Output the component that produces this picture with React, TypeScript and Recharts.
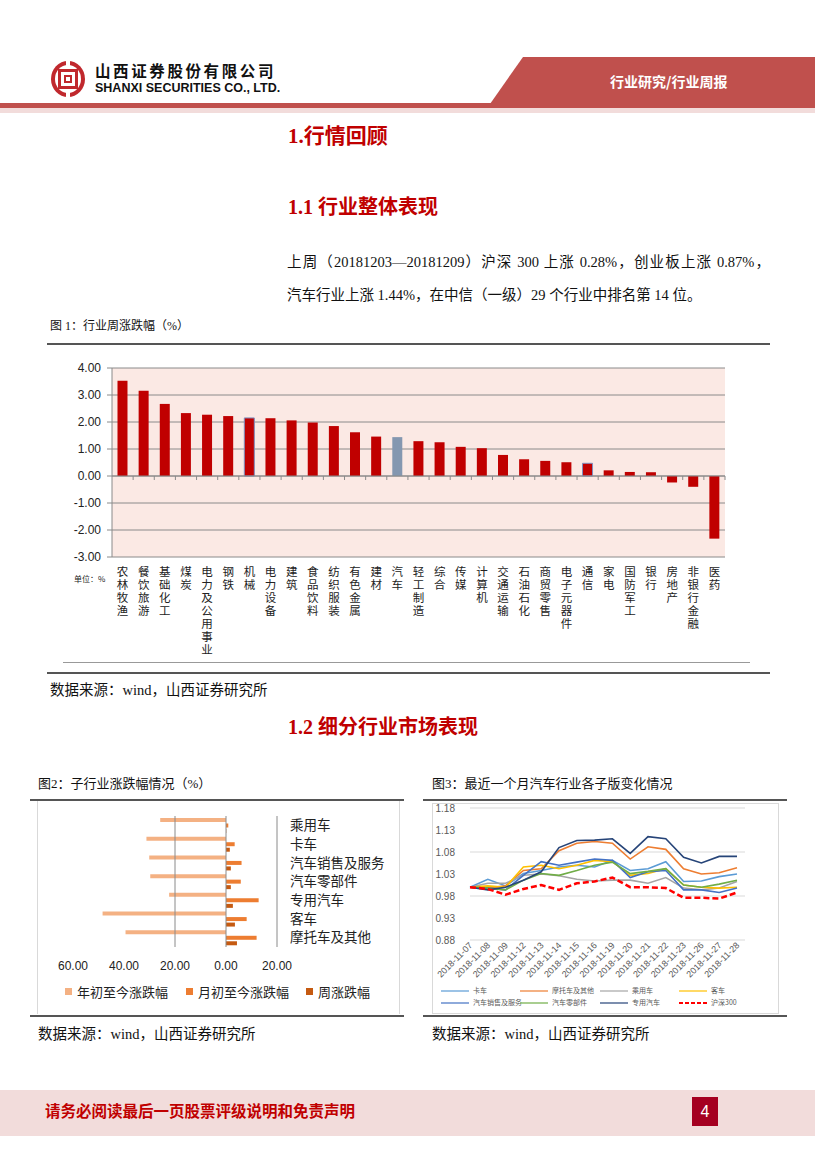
import React from 'react';
import {
  BarChart,
  Bar,
  XAxis,
  YAxis,
  CartesianGrid,
  ReferenceLine,
  Cell,
  LineChart,
  Line,
} from 'recharts';

// 图1：行业周涨跌幅
const industries = [
  '农林牧渔', '餐饮旅游', '基础化工', '煤炭', '电力及公用事业', '钢铁', '机械', '电力设备',
  '建筑', '食品饮料', '纺织服装', '有色金属', '建材', '汽车', '轻工制造', '综合', '传媒',
  '计算机', '交通运输', '石油石化', '商贸零售', '电子元器件', '通信', '家电', '国防军工',
  '银行', '房地产', '非银行金融', '医药',
];
const weeklyChange = [
  3.53, 3.16, 2.67, 2.33, 2.27, 2.22, 2.15, 2.14, 2.06, 1.98, 1.85, 1.62, 1.46, 1.44, 1.29,
  1.25, 1.08, 1.03, 0.78, 0.62, 0.56, 0.51, 0.47, 0.21, 0.15, 0.14, -0.24, -0.4, -2.32,
];
const highlighted = '汽车';
const outlined = ['机械', '通信'];
const industryTicks = [-3, -2, -1, 0, 1, 2, 3, 4];

// 图2：子行业涨跌幅
const subIndustries = ['乘用车', '卡车', '汽车销售及服务', '汽车零部件', '专用汽车', '客车', '摩托车及其他'];
const ytdChange = [-25.8, -31.2, -30.1, -29.7, -22.3, -48.4, -39.4];
const mtdChange = [0.9, 3.4, 6.1, 5.8, 12.8, 8.1, 12.0];
const wkChange = [0.1, 1.5, 1.9, 1.9, 2.7, 3.5, 4.3];
const subTicks = [-60, -40, -20, 0, 20];

// 图3：最近一个月汽车行业各子版
const dates = [
  '2018-11-07', '2018-11-08', '2018-11-09', '2018-11-12', '2018-11-13', '2018-11-14',
  '2018-11-15', '2018-11-16', '2018-11-19', '2018-11-20', '2018-11-21', '2018-11-22',
  '2018-11-23', '2018-11-26', '2018-11-27', '2018-11-28',
];
const truck = [1.0, 1.018, 1.003, 1.031, 1.038, 1.046, 1.05, 1.046, 1.061, 1.038, 1.042, 1.058, 1.013, 1.014, 1.024, 1.03];
const moto = [1.0, 0.998, 1.003, 1.038, 1.042, 1.083, 1.1, 1.104, 1.1, 1.064, 1.092, 1.086, 1.042, 1.03, 1.033, 1.044];
const passenger = [1.0, 1.009, 1.009, 1.027, 1.03, 1.026, 1.018, 1.014, 1.016, 1.016, 1.009, 1.022, 0.998, 0.994, 0.998, 1.013];
const bus = [1.0, 1.003, 1.0, 1.046, 1.05, 1.042, 1.05, 1.061, 1.058, 1.027, 1.031, 1.042, 1.005, 1.0, 0.998, 1.0];
const sales = [1.0, 0.998, 0.994, 1.027, 1.058, 1.05, 1.057, 1.064, 1.061, 1.022, 1.035, 1.038, 0.994, 0.994, 0.988, 0.998];
const parts = [1.0, 0.998, 0.994, 1.016, 1.031, 1.027, 1.038, 1.05, 1.057, 1.031, 1.036, 1.042, 1.005, 1.0, 1.007, 1.016];
const special = [1.0, 0.994, 1.0, 1.016, 1.035, 1.09, 1.106, 1.107, 1.11, 1.077, 1.115, 1.11, 1.068, 1.055, 1.07, 1.07];
const hs300 = [1.0, 0.996, 0.983, 0.996, 1.005, 0.994, 1.009, 1.013, 1.022, 1.0, 1.0, 0.998, 0.976, 0.976, 0.974, 0.988];
const indexTicks = [0.88, 0.93, 0.98, 1.03, 1.08, 1.13, 1.18];

const industryData = industries.map((name, i) => ({ name, value: weeklyChange[i] }));
const subData = subIndustries.map((name, i) => ({ name, ytd: ytdChange[i], mtd: mtdChange[i], wk: wkChange[i] }));
const indexData = dates.map((date, i) => ({
  date,
  truck: truck[i],
  moto: moto[i],
  passenger: passenger[i],
  bus: bus[i],
  sales: sales[i],
  parts: parts[i],
  special: special[i],
  hs300: hs300[i],
}));

const lineSeries = [
  { key: 'truck', name: '卡车', color: '#5B9BD5' },
  { key: 'moto', name: '摩托车及其他', color: '#ED7D31' },
  { key: 'passenger', name: '乘用车', color: '#A5A5A5' },
  { key: 'bus', name: '客车', color: '#FFC000' },
  { key: 'sales', name: '汽车销售及服务', color: '#4472C4' },
  { key: 'parts', name: '汽车零部件', color: '#70AD47' },
  { key: 'special', name: '专用汽车', color: '#264478' },
  { key: 'hs300', name: '沪深300', color: '#FF0000', dashed: true },
];

const serif = "'Liberation Serif', 'Noto Sans CJK SC', serif";
const cjk = "'Noto Sans CJK SC', sans-serif";
const RED = '#C00000';

// one text per label, set vertically
const VerticalTick = (props: any) => {
  const { x, y, payload } = props;
  return (
    <text
      x={x}
      y={y + 9}
      fontSize={11.5}
      fill="#222"
      fontFamily={cjk}
      style={{ writingMode: 'vertical-rl', letterSpacing: 1.5 }}
    >
      {payload.value}
    </text>
  );
};

// zero line with small category ticks hanging below it
const ZeroLine = (props: any) => {
  const { x1, x2, y1 } = props;
  const step = (x2 - x1) / industries.length;
  return (
    <g stroke="#8A8A8A" strokeWidth={1}>
      <line x1={x1} y1={y1} x2={x2} y2={y1} />
      {industries.map((_, i) => (
        <line key={i} x1={x1 + step * (i + 1)} y1={y1} x2={x1 + step * (i + 1)} y2={y1 + 4} />
      ))}
    </g>
  );
};

const DateTick = (props: any) => {
  const { x, y, payload } = props;
  const tx = x + 3;
  const ty = y + 6;
  return (
    <text x={tx} y={ty} transform={`rotate(-45 ${tx} ${ty})`} textAnchor="end" fontSize={9} fill="#595959" fontFamily="'Liberation Sans', sans-serif">
      {payload.value}
    </text>
  );
};

const abs: React.CSSProperties = { position: 'absolute' };

const Rule = ({ x, y, w, h = 2, color = '#555' }: { x: number; y: number; w: number; h?: number; color?: string }) => (
  <div style={{ ...abs, left: x, top: y, width: w, height: h, background: color }} />
);

const Txt = ({ x, y, size, children, color = '#111', bold = false, family = serif, style = {} }: any) => (
  <div style={{ ...abs, left: x, top: y, fontSize: size, color, fontWeight: bold ? 700 : 400, fontFamily: family, whiteSpace: 'nowrap', lineHeight: 1, ...style }}>
    {children}
  </div>
);

const Logo = () => (
  <svg width={36} height={38} style={{ ...abs, left: 50, top: 60 }} viewBox="0 0 36 38">
    <ellipse cx={18} cy={19} rx={17} ry={18} fill="#C0282D" />
    <ellipse cx={18} cy={19} rx={13} ry={14} fill="#fff" />
    <rect x={8} y={9} width={20} height={20} fill="#C0282D" />
    <rect x={11} y={12} width={14} height={14} fill="#fff" />
    <rect x={14} y={15} width={8} height={8} fill="#C0282D" />
    <rect x={16} y={17} width={4} height={4} fill="#fff" />
    <rect x={16} y={0} width={4} height={9} fill="#fff" />
    <rect x={16} y={29} width={4} height={9} fill="#fff" />
  </svg>
);

export default function App() {
  return (
    <div style={{ ...abs, left: 0, top: 0, width: 827, height: 1169, background: '#fff', overflow: 'hidden' }}>
      {/* header */}
      <Logo />
      <Txt x={95} y={63} size={15.5} bold family={cjk} color="#111" style={{ letterSpacing: 2.6 }}>山西证券股份有限公司</Txt>
      <Txt x={95} y={82} size={12.5} bold family="'Liberation Sans', sans-serif" color="#111">SHANXI SECURITIES CO., LTD.</Txt>
      <svg width={827} height={115} style={{ ...abs, left: 0, top: 0 }}>
        <polygon points="523,57 815,57 815,104 490,104" fill="#C0504D" />
        <rect x={0} y={103} width={815} height={5} fill="#C0504D" />
        <rect x={0} y={108} width={815} height={5} fill="#F2DCDB" />
      </svg>
      <Txt x={610} y={74} size={14} bold family={cjk} color="#fff">行业研究/行业周报</Txt>

      {/* section 1 */}
      <Txt x={288} y={126} size={21} bold color={RED}>1.行情回顾</Txt>
      <Txt x={288} y={197} size={20} bold color={RED}>1.1 行业整体表现</Txt>
      <Txt x={287} y={255} size={14.5} style={{ width: 483, textAlign: 'justify', textAlignLast: 'justify' }}>
        上周（20181203—20181209）沪深 300 上涨 0.28%，创业板上涨 0.87%，
      </Txt>
      <Txt x={287} y={288} size={14.5}>汽车行业上涨 1.44%，在中信（一级）29 个行业中排名第 14 位。</Txt>

      <Txt x={50} y={320} size={12}>图 1：行业周涨跌幅（%）</Txt>
      <Rule x={47} y={343} w={723} />
      <div style={{ ...abs, left: 0, top: 355 }}>
        <BarChart width={760} height={305} data={industryData} margin={{ top: 13, right: 35, left: 62, bottom: 3 }} barCategoryGap="26%">
          <CartesianGrid vertical={false} stroke="#8A8A8A" fill="#FBE9E4" />
          <XAxis dataKey="name" interval={0} axisLine={false} tickLine={false} tickSize={0} tickMargin={0} height={100} tick={<VerticalTick />} />
          <YAxis
            domain={[-3, 4]}
            ticks={industryTicks}
            tickFormatter={(v: number) => v.toFixed(2)}
            width={50}
            axisLine={{ stroke: '#8A8A8A' }}
            tickLine={{ stroke: '#8A8A8A' }}
            tickSize={5}
            tickMargin={6}
            tick={{ fontSize: 12, fill: '#222', fontFamily: "'Liberation Sans', sans-serif" }}
          />
          <Bar dataKey="value" isAnimationActive={false}>
            {industryData.map((d) => (
              <Cell
                key={d.name}
                fill={d.name === highlighted ? '#8497B0' : RED}
                stroke={outlined.includes(d.name) ? '#7F8FBF' : 'none'}
                strokeWidth={1}
              />
            ))}
          </Bar>
          <ReferenceLine y={0} shape={<ZeroLine />} />
        </BarChart>
      </div>
      <Txt x={74} y={575} size={8} family={cjk} color="#222">单位：%</Txt>
      <Rule x={63} y={662} w={687} h={1} color="#999" />
      <Rule x={47} y={672} w={723} />
      <Txt x={50} y={683} size={14.5}>数据来源：wind，山西证券研究所</Txt>

      {/* section 1.2 */}
      <Txt x={288} y={717} size={20} bold color={RED}>1.2 细分行业市场表现</Txt>

      {/* 图2 */}
      <Txt x={38} y={777} size={13}>图2：子行业涨跌幅情况（%）</Txt>
      <Rule x={30} y={799} w={374} />
      <div style={{ ...abs, left: 37, top: 801, width: 361, height: 213, borderLeft: '1px solid #D9D9D9', borderRight: '1px solid #D9D9D9' }} />
      <div style={{ ...abs, left: 37, top: 805 }}>
        <BarChart width={360} height={172} data={subData} layout="vertical" margin={{ top: 11, right: 5, left: 36, bottom: 0 }} barSize={4} barGap={1.5}>
          <XAxis
            type="number"
            domain={[-60, 20]}
            ticks={subTicks}
            tickFormatter={(v: number) => Math.abs(v).toFixed(2)}
            axisLine={false}
            tickLine={false}
            tickSize={0}
            tickMargin={14}
            height={30}
            tick={{ fontSize: 12, fill: '#222', fontFamily: "'Liberation Sans', sans-serif" }}
          />
          <YAxis
            type="category"
            dataKey="name"
            orientation="right"
            width={115}
            axisLine={{ stroke: '#8A8A8A' }}
            tickLine={false}
            tickSize={0}
            tickMargin={13}
            interval={0}
            tick={{ fontSize: 13.5, fill: '#222', fontFamily: cjk }}
          />
          <ReferenceLine x={-20} stroke="#8A8A8A" />
          <ReferenceLine x={0} stroke="#8A8A8A" />
          <Bar dataKey="ytd" fill="#F4B183" isAnimationActive={false} />
          <Bar dataKey="mtd" fill="#ED7D31" isAnimationActive={false} />
          <Bar dataKey="wk" fill="#C55A11" isAnimationActive={false} />
        </BarChart>
      </div>
      {[
        { x: 65, label: '年初至今涨跌幅', color: '#F4B183' },
        { x: 186, label: '月初至今涨跌幅', color: '#ED7D31' },
        { x: 306, label: '周涨跌幅', color: '#C55A11' },
      ].map((l) => (
        <div key={l.label} style={{ ...abs, left: l.x, top: 985, display: 'flex', alignItems: 'center', fontSize: 13, fontFamily: cjk, color: '#222', lineHeight: 1 }}>
          <span style={{ width: 7, height: 7, background: l.color, marginRight: 5, display: 'inline-block' }} />
          {l.label}
        </div>
      ))}
      <Rule x={30} y={1015} w={374} />
      <Txt x={38} y={1027} size={14.5}>数据来源：wind，山西证券研究所</Txt>

      {/* 图3 */}
      <Txt x={432} y={777} size={13}>图3：最近一个月汽车行业各子版变化情况</Txt>
      <Rule x={423} y={799} w={364} />
      <div style={{ ...abs, left: 432, top: 803, width: 345, height: 209, border: '1px solid #D9D9D9' }} />
      <div style={{ ...abs, left: 432, top: 803 }}>
        <LineChart width={346} height={210} data={indexData} margin={{ top: 5, right: 33, left: 0, bottom: 28 }}>
          <CartesianGrid vertical={false} stroke="#D9D9D9" />
          <XAxis dataKey="date" interval={0} axisLine={false} tickLine={false} tickSize={0} tickMargin={0} height={45} padding={{ left: 0, right: 8 }} tick={<DateTick />} />
          <YAxis
            domain={[0.88, 1.18]}
            ticks={indexTicks}
            tickFormatter={(v: number) => v.toFixed(2)}
            width={38}
            axisLine={false}
            tickLine={false}
            tickSize={0}
            tickMargin={15}
            tick={{ fontSize: 10, fill: '#595959', fontFamily: "'Liberation Sans', sans-serif" }}
          />
          {lineSeries.map((s) => (
            <Line
              key={s.key}
              type="linear"
              dataKey={s.key}
              name={s.name}
              stroke={s.color}
              strokeWidth={s.dashed ? 2.5 : 1.6}
              strokeDasharray={s.dashed ? '6 3' : undefined}
              dot={false}
              isAnimationActive={false}
            />
          ))}
        </LineChart>
      </div>
      {lineSeries.map((s, i) => (
        <div
          key={s.key}
          style={{ ...abs, left: [441, 520, 600, 679][i % 4], top: i < 4 ? 987 : 999, display: 'flex', alignItems: 'center', fontSize: 7, color: '#595959', fontFamily: cjk, lineHeight: 1 }}
        >
          <svg width={28} height={4} style={{ marginRight: 4 }}>
            <line x1={0} y1={2} x2={28} y2={2} stroke={s.color} strokeWidth={s.dashed ? 2 : 1.2} strokeDasharray={s.dashed ? '4 2' : undefined} />
          </svg>
          {s.name}
        </div>
      ))}
      <Rule x={423} y={1015} w={364} />
      <Txt x={432} y={1027} size={14.5}>数据来源：wind，山西证券研究所</Txt>

      {/* footer */}
      <div style={{ ...abs, left: 0, top: 1090, width: 815, height: 46, background: '#F2DCDB' }} />
      <Txt x={45} y={1104} size={15.5} bold color={RED}>请务必阅读最后一页股票评级说明和免责声明</Txt>
      <div style={{ ...abs, left: 692, top: 1097, width: 26, height: 29, background: '#A50021', color: '#fff', fontSize: 16, fontFamily: "'Liberation Sans', sans-serif", display: 'flex', alignItems: 'center', justifyContent: 'center' }}>
        4
      </div>
    </div>
  );
}
